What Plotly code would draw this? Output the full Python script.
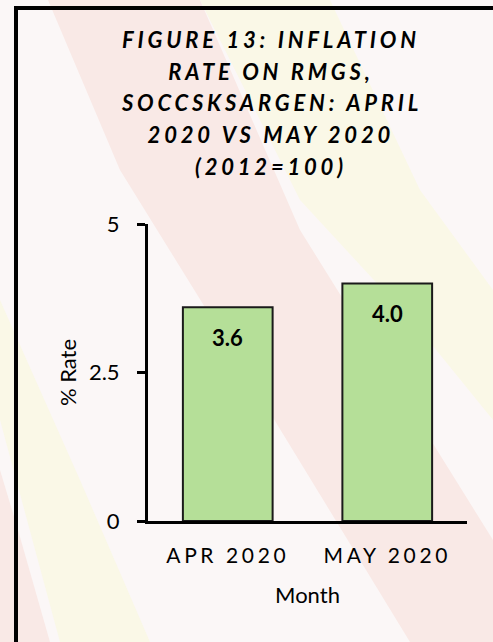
import plotly.graph_objects as go

# ---- data ----
months = ["APR 2020", "MAY 2020"]
rates = [3.6, 4.0]
y_ticks = [0, 2.5, 5]
y_tick_labels = ["0", "2.5", "5"]
title_lines = [
    "FIGURE 13: INFLATION",
    "RATE ON RMGS,",
    "SOCCSKSARGEN: APRIL",
    "2020 VS MAY 2020",
    "(2012=100)",
]

W, H = 493, 642
ML, MR, MT, MB = 148, 26, 224, 121
PW, PH = W - ML - MR, H - MT - MB
FONT = "Lato"


def px(x):
    return (x - ML) / PW


def py(y):
    return (H - MB - y) / PH


fig = go.Figure()
fig.add_trace(go.Bar(
    x=months, y=rates,
    marker=dict(color="#b5df98", line=dict(color="#1a1a1a", width=2)),
    hoverinfo="skip",
))

# value labels inside bar tops
annotations = []
for m, v in zip(months, rates):
    annotations.append(dict(
        x=m, y=v, xref="x", yref="y", text=f"{v:.1f}", showarrow=False,
        yshift=-30, yanchor="middle",
        font=dict(family=FONT, size=22, color="#000000", weight="bold"),
    ))

# title lines
title_y = [40, 71, 102, 134, 166]
for t, yy in zip(title_lines, title_y):
    annotations.append(dict(
        x=px(271), y=py(yy), xref="paper", yref="paper", text=t,
        showarrow=False, xanchor="center", yanchor="middle",
        font=dict(family=FONT, size=22, color="#000000", weight="bold", style="italic"),
    ))

# faint watermark bands (decoration)
def poly(points):
    return "M " + " L ".join(f"{px(a):.4f},{py(b):.4f}" for a, b in points) + " Z"

PINK = "#f9e9e6"
YEL = "#faf8e7"
shapes = [
    dict(type="path", xref="paper", yref="paper", layer="below", line=dict(width=0),
         fillcolor=PINK,
         path=poly([(48, 0), (200, 0), (300, 230), (493, 540), (493, 642), (410, 642), (250, 380), (120, 170)])),
    dict(type="path", xref="paper", yref="paper", layer="below", line=dict(width=0),
         fillcolor=YEL,
         path=poly([(200, 0), (330, 0), (420, 190), (493, 290), (493, 420), (420, 330), (300, 200)])),
    dict(type="path", xref="paper", yref="paper", layer="below", line=dict(width=0),
         fillcolor=YEL,
         path=poly([(0, 300), (0, 420), (60, 642), (150, 642), (80, 480)])),
    dict(type="path", xref="paper", yref="paper", layer="below", line=dict(width=0),
         fillcolor=PINK,
         path=poly([(0, 470), (0, 642), (50, 642), (18, 530)])),
    # chart frame (top and left edges visible)
    dict(type="rect", xref="paper", yref="paper", layer="above",
         x0=px(16), x1=px(700), y0=py(8), y1=py(900),
         line=dict(color="#000000", width=4), fillcolor="rgba(0,0,0,0)"),
]

fig.update_layout(
    width=W, height=H,
    margin=dict(l=ML, r=MR, t=MT, b=MB),
    paper_bgcolor="#fbf7f7",
    plot_bgcolor="rgba(0,0,0,0)",
    showlegend=False,
    bargap=0.4375,
    annotations=annotations,
    shapes=shapes,
    font=dict(family=FONT, size=22, color="#000000"),
)
fig.update_xaxes(
    showline=True, linecolor="#000000", linewidth=3,
    ticks="", showgrid=False, zeroline=False,
    tickfont=dict(family=FONT, size=21, color="#000000"),
    ticklabelstandoff=14,
    title=dict(text="Month", font=dict(family=FONT, size=22, color="#000000"), standoff=22),
)
fig.update_yaxes(
    range=[0, 5], tickvals=y_ticks, ticktext=y_tick_labels,
    showline=True, linecolor="#000000", linewidth=3,
    ticks="outside", ticklen=8, tickwidth=3, tickcolor="#000000",
    showgrid=False, zeroline=False,
    tickfont=dict(family=FONT, size=22, color="#000000"),
    ticklabelstandoff=13,
    title=dict(text="% Rate", font=dict(family=FONT, size=22, color="#000000"), standoff=7),
)

post = """
document.documentElement.style.margin = '0';
document.body.style.margin = '0';
document.body.style.padding = '0';
var gd = document.getElementById('{plot_id}');
function ls(){
  document.querySelectorAll('.annotation-text').forEach(function(el){
    if (el.textContent.length > 5) { el.style.letterSpacing = '3.8px'; }
  });
  document.querySelectorAll('.xtick text').forEach(function(el){
    el.style.letterSpacing = '3.6px';
  });
}
ls(); setTimeout(ls, 50); setTimeout(ls, 300);
if (gd && gd.on) { gd.on('plotly_afterplot', ls); }
"""
fig.write_html("out.html", post_script=post, config={"displayModeBar": False})
